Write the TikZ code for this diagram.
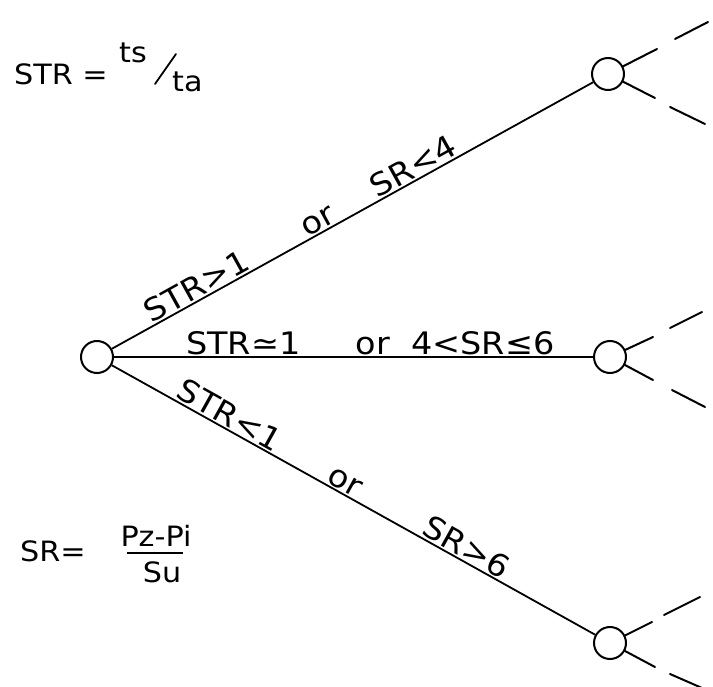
\documentclass[tikz,border=0pt]{standalone}
\usepackage{fontspec}
\setmainfont{DejaVu Sans}[FakeStretch=1.08]
\begin{document}
\begin{tikzpicture}[x=1pt,y=-1pt,
  state/.style={circle,draw,line width=2pt,minimum size=32pt,inner sep=0pt},
  branch/.style={line width=1.8pt},
  stub/.style={line width=2pt,line cap=round},
  cond/.style={font=\fontsize{31}{34}\selectfont,sloped,above,inner sep=1.5pt},
  eqn/.style={font=\fontsize{28}{32}\selectfont,inner sep=0pt},
  small/.style={font=\fontsize{28}{32}\selectfont,inner sep=0pt}]
\path[use as bounding box] (0,0) rectangle (713,687);

% decision nodes
\node[state] (root) at (97,357) {};
\node[state] (top) at (608,74) {};
\node[state] (mid) at (610,357) {};
\node[state] (bot) at (610,643) {};

% branches with their conditions
\draw[branch] (root) --
  node[cond,pos=0.19] {STR>1}
  node[cond,pos=0.44] {or}
  node[cond,pos=0.64] {SR<4} (top);
\draw[branch] (root) --
  node[cond,pos=0.27] {STR≃1}
  node[cond,pos=0.54] {or}
  node[cond,pos=0.77] {4<SR≤6} (mid);
\draw[branch] (root) --
  node[cond,pos=0.23] {STR<1}
  node[cond,pos=0.47] {or}
  node[cond,pos=0.72] {SR>6} (bot);

% continuation stubs on the right
\coordinate (tua) at (657,49);  \coordinate (tub) at (675,39);  \coordinate (tuc) at (708,22);
\coordinate (tla) at (655,98);  \coordinate (tlb) at (670,107); \coordinate (tlc) at (705,124);
\coordinate (mua) at (653,337); \coordinate (mub) at (670,328); \coordinate (muc) at (702,312);
\coordinate (mla) at (653,380); \coordinate (mlb) at (672,390); \coordinate (mlc) at (705,407);
\coordinate (bua) at (652,622); \coordinate (bub) at (664,615); \coordinate (buc) at (700,597);
\coordinate (bla) at (655,667); \coordinate (blb) at (670,674); \coordinate (blc) at (702,688);

\foreach \n in {t,m,b}{
  \draw[stub] (\n ub) -- (\n uc);
  \draw[stub] (\n lb) -- (\n lc);
}
\draw[stub] (top) -- (tua);  \draw[stub] (top) -- (tla);
\draw[stub] (mid) -- (mua);  \draw[stub] (mid) -- (mla);
\draw[stub] (bot) -- (bua);  \draw[stub] (bot) -- (bla);

% STR definition
\node[eqn,anchor=base west] (strdef) at (14,85) {STR =};
\node[small,anchor=base west] (ts) at (119,63) {ts};
\node[small,anchor=base west] (ta) at (172,92) {ta};
\draw[line width=1.8pt,line cap=round] (155,84) -- (176,54);

% SR definition
\node[eqn,anchor=base west] (srdef) at (20,561) {SR=};
\node[small,anchor=base] (num) at (156,546) {Pz-Pi};
\node[small,anchor=base] (den) at (162,582) {Su};
\draw[line width=1.8pt] (127,553) -- (183,553);
\end{tikzpicture}
\end{document}
